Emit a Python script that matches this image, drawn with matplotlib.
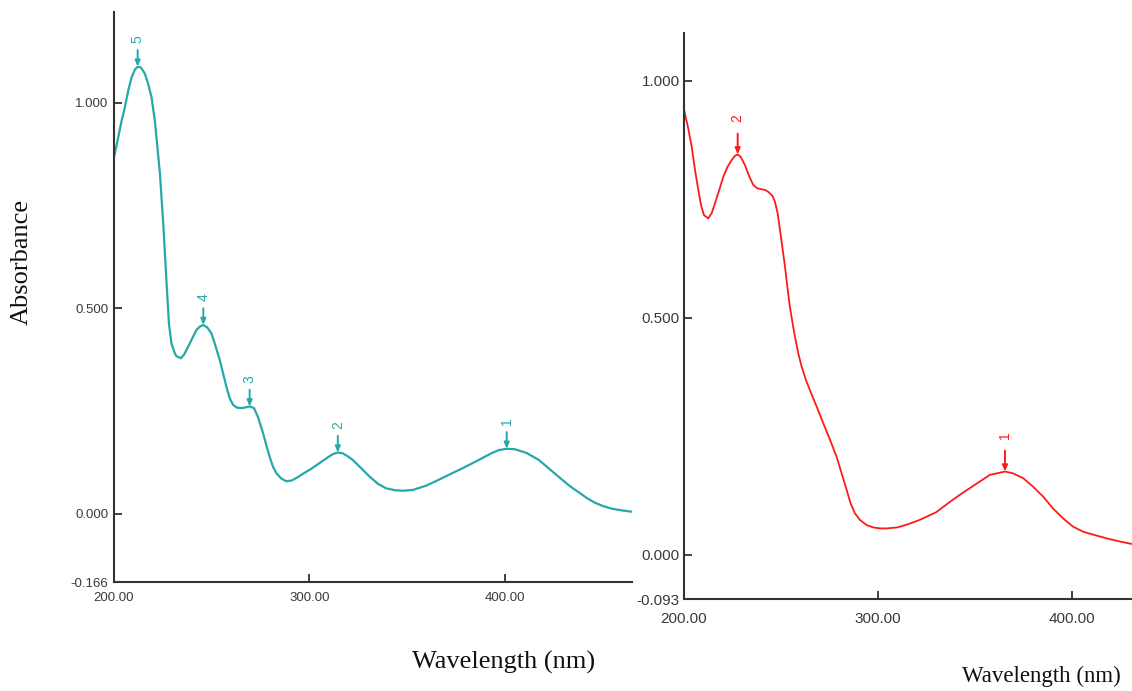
import matplotlib
matplotlib.use("Agg")
import matplotlib.pyplot as plt

# Left spectrum (teal)
left_wl = [200.0, 202.2, 203.9, 205.6, 207.3, 209.0, 210.7, 212.1, 213.8, 215.8,
           217.5, 219.2, 220.9, 223.5, 225.2, 226.9, 228.1, 229.4, 231.1, 232.0,
           234.2, 236.0, 237.9, 240.0, 242.2, 243.9, 245.7, 247.7, 249.8, 251.8,
           254.1, 257.5, 259.2, 260.9, 262.9, 265.2, 267.7, 269.4, 271.6, 273.6,
           276.2, 277.9, 279.6, 281.3, 283.0, 285.5, 288.1, 291.0, 294.0, 296.6,
           300.5, 305.1, 309.0, 312.0, 314.5, 317.0, 319.5, 322.1, 326.0, 330.6,
           335.0, 339.1, 344.0, 348.0, 353.0, 359.5, 365.0, 369.7, 378.0, 386.7,
           393.0, 397.0, 400.9, 405.0, 411.0, 417.3, 423.0, 429.2, 433.0, 437.8,
           442.0, 446.0, 450.0, 455.0, 460.0, 465.0]
left_abs = [0.867, 0.916, 0.956, 0.989, 1.029, 1.061, 1.080, 1.087, 1.085, 1.070,
            1.045, 1.013, 0.956, 0.827, 0.706, 0.560, 0.463, 0.414, 0.390, 0.383,
            0.378, 0.388, 0.406, 0.426, 0.447, 0.455, 0.459, 0.453, 0.439, 0.410,
            0.374, 0.309, 0.281, 0.265, 0.258, 0.257, 0.259, 0.261, 0.257, 0.236,
            0.197, 0.167, 0.139, 0.115, 0.099, 0.086, 0.079, 0.081, 0.089, 0.097,
            0.108, 0.123, 0.136, 0.145, 0.149, 0.147, 0.140, 0.131, 0.113, 0.091,
            0.073, 0.062, 0.057, 0.056, 0.058, 0.068, 0.080, 0.091, 0.110, 0.131,
            0.147, 0.155, 0.158, 0.157, 0.148, 0.131, 0.108, 0.083, 0.068, 0.052,
            0.038, 0.027, 0.019, 0.012, 0.008, 0.005]
left_peak_wl = [400.9, 314.5, 269.4, 245.7, 212.1]
left_peak_abs = [0.158, 0.149, 0.261, 0.459, 1.087]
left_peak_lbl = ['1', '2', '3', '4', '5']

# Right spectrum (red)
right_wl = [200.0, 202.2, 204.0, 205.7, 207.4, 208.8, 210.3, 212.5, 214.3, 216.0,
            218.2, 220.3, 222.5, 224.6, 226.3, 227.7, 229.2, 231.4, 233.7, 235.7,
            237.5, 239.2, 241.8, 243.5, 245.7, 246.9, 248.3, 249.5, 250.8, 252.1,
            253.3, 254.6, 256.0, 257.2, 258.9, 260.7, 262.9, 264.9, 268.4, 271.8,
            275.3, 278.7, 281.3, 283.9, 285.9, 288.1, 290.7, 294.2, 297.6, 301.0,
            304.5, 310.0, 315.0, 321.6, 330.0, 337.1, 342.3, 347.4, 352.6, 357.7,
            361.2, 365.5, 369.7, 374.9, 380.0, 385.2, 390.3, 395.5, 400.5, 405.8,
            411.7, 417.9, 424.0, 431.0]
right_abs = [0.940, 0.900, 0.861, 0.812, 0.770, 0.738, 0.717, 0.710, 0.721, 0.742,
             0.770, 0.798, 0.819, 0.833, 0.842, 0.845, 0.840, 0.823, 0.798, 0.781,
             0.774, 0.772, 0.770, 0.766, 0.757, 0.745, 0.721, 0.686, 0.647, 0.608,
             0.566, 0.524, 0.489, 0.461, 0.426, 0.397, 0.369, 0.348, 0.313, 0.278,
             0.243, 0.207, 0.172, 0.137, 0.109, 0.088, 0.074, 0.063, 0.058, 0.056,
             0.056, 0.058, 0.064, 0.074, 0.090, 0.112, 0.127, 0.141, 0.155, 0.169,
             0.172, 0.176, 0.172, 0.162, 0.144, 0.123, 0.098, 0.077, 0.060, 0.049,
             0.042, 0.035, 0.029, 0.023]
right_peak_wl = [365.5, 227.7]
right_peak_abs = [0.176, 0.845]
right_peak_lbl = ['1', '2']

teal = '#27A8A8'
red = '#FF1A1A'
axis_col = '#333333'

fig = plt.figure(figsize=(11.32, 6.91), dpi=100)
ax1 = fig.add_axes([0.1007, 0.1577, 0.4576, 0.8249])
ax2 = fig.add_axes([0.6042, 0.1331, 0.3958, 0.8191])


def style_axis(ax, ylim_low, ylim_top, xlim_right, fs, xpad, ypad):
    ax.set_xlim(200, xlim_right)
    ax.set_ylim(ylim_low, ylim_top)
    for s in ['top', 'right']:
        ax.spines[s].set_visible(False)
    for s in ['left', 'bottom']:
        ax.spines[s].set_color(axis_col)
        ax.spines[s].set_linewidth(1.5)
    ax.set_xticks([200, 300, 400])
    ax.set_xticklabels(['200.00', '300.00', '400.00'])
    ax.set_yticks([ylim_low, 0.0, 0.5, 1.0])
    ax.set_yticklabels([f'{ylim_low:.3f}', '0.000', '0.500', '1.000'])
    ax.tick_params(axis='both', direction='in', length=6, width=1.3,
                   color=axis_col, labelcolor='#3a3a3a', labelsize=fs)
    ax.tick_params(axis='x', pad=xpad)
    ax.tick_params(axis='y', pad=ypad)
    for lbl in ax.get_xticklabels() + ax.get_yticklabels():
        lbl.set_family('Liberation Sans')


def mark_peaks(ax, xs, ys, labels, color, lab_off, arr_off):
    for x, y, t in zip(xs, ys, labels):
        ax.annotate('', xy=(x, y), xytext=(0, arr_off), textcoords='offset points',
                    arrowprops=dict(arrowstyle='-|>,head_length=0.35,head_width=0.15',
                                    color=color, lw=1.4, shrinkA=0, shrinkB=0))
        ax.annotate(t, xy=(x, y), xytext=(0, lab_off), textcoords='offset points',
                    ha='center', va='center', rotation=90, color=color,
                    fontsize=10, family='Liberation Sans')


ax1.plot(left_wl, left_abs, color=teal, lw=1.6, solid_joinstyle='round')
style_axis(ax1, -0.166, 1.22, 465, 9.5, 7, 4)
mark_peaks(ax1, left_peak_wl, left_peak_abs, left_peak_lbl, teal, 20, 12)

ax2.plot(right_wl, right_abs, color=red, lw=1.3, solid_joinstyle='round')
style_axis(ax2, -0.093, 1.101, 431, 11, 9, 3)
mark_peaks(ax2, right_peak_wl, right_peak_abs, right_peak_lbl, red, 26, 15)

fig.text(0.0194, 0.621, 'Absorbance', rotation=90, ha='center', va='center',
         family='Liberation Serif', fontsize=19, color='#111111')
fig.text(0.445, 0.042, 'Wavelength (nm)', ha='center', va='center',
         family='Liberation Serif', fontsize=19, color='#111111')
fig.text(0.9196, 0.0217, 'Wavelength (nm)', ha='center', va='center',
         family='Liberation Serif', fontsize=16.5, color='#111111')

fig.savefig('out.png', dpi=100)
